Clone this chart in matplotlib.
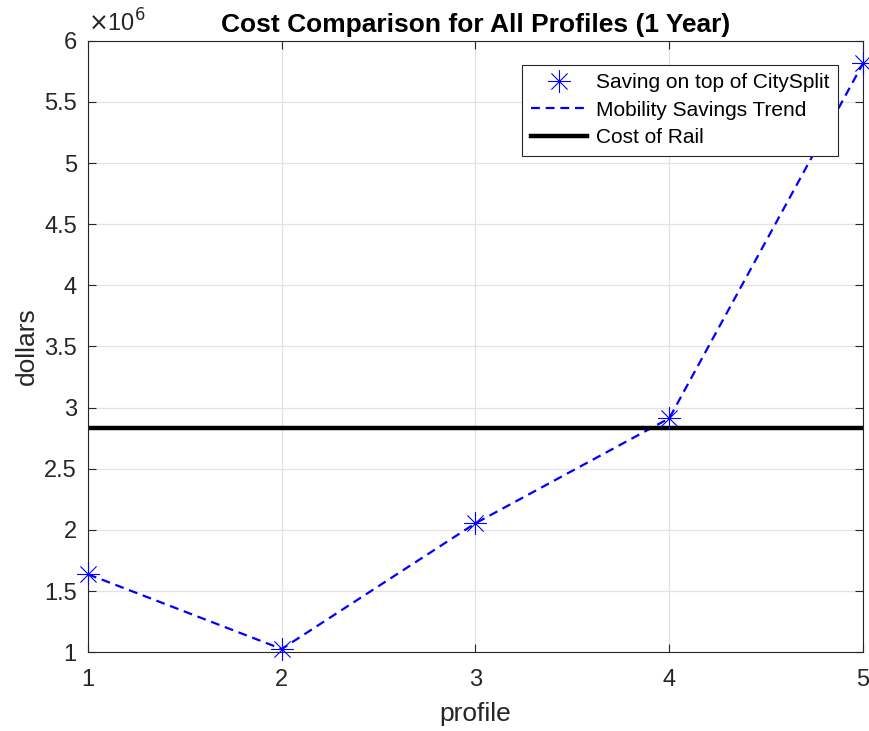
import matplotlib
matplotlib.use('Agg')
import matplotlib.pyplot as plt
from matplotlib.path import Path
from matplotlib.ticker import FuncFormatter, MultipleLocator

# yearly savings per profile, in dollars
profiles = [1, 2, 3, 4, 5]
savings = [1.638e6, 1.027e6, 2.055e6, 2.913e6, 5.815e6]
rail_cost = 2.831e6

plt.rcParams['font.family'] = ['Liberation Sans', 'DejaVu Sans']

# open 8-armed asterisk marker
d = 0.707
star = Path([(-1, 0), (1, 0), (0, -1), (0, 1), (-d, -d), (d, d), (-d, d), (d, -d)],
            [Path.MOVETO, Path.LINETO] * 4)

fig = plt.figure(figsize=(8.7, 7.31), dpi=100)
ax = fig.add_axes([0.1011, 0.1077, 0.8909, 0.8366])

ax.plot(profiles, savings, linestyle='none', marker=star, color='blue',
        markerfacecolor='none', markersize=16.5, markeredgewidth=0.8,
        clip_on=False, zorder=4, label='Saving on top of CitySplit')
ax.plot(profiles, savings, '--', color='blue', linewidth=1.6, dashes=(4, 2.6),
        label='Mobility Savings Trend')
ax.axhline(rail_cost, color='black', linewidth=3.2, label='Cost of Rail')

ax.set_xlim(1, 5)
ax.set_ylim(1e6, 6e6)
ax.xaxis.set_major_locator(MultipleLocator(1))
ax.yaxis.set_major_locator(MultipleLocator(0.5e6))
ax.yaxis.set_major_formatter(FuncFormatter(lambda v, p: '%g' % (v / 1e6)))
ax.grid(True, color='#e3e3e3', linewidth=0.9)
ax.set_axisbelow(True)
ax.tick_params(direction='in', top=True, right=True, labelsize=17,
               colors='#262626', length=6, width=0.8)
ax.tick_params(axis='x', pad=12)
ax.tick_params(axis='y', pad=8)
for s in ax.spines.values():
    s.set_color('#262626')
    s.set_linewidth(0.8)

ax.text(0.0, 1.006, r'$\times$10$^{6}$', transform=ax.transAxes, fontsize=17,
        color='#262626', ha='left', va='bottom')

ax.set_xlabel('profile', fontsize=19, color='#262626', labelpad=8)
ax.set_ylabel('dollars', fontsize=19, color='#262626', labelpad=4)
ax.set_title('Cost Comparison for All Profiles (1 Year)', fontsize=19,
             fontweight='bold', pad=6)

leg = ax.legend(loc='upper right', bbox_to_anchor=(0.968, 0.961), fontsize=15,
                fancybox=False, framealpha=1, edgecolor='#262626',
                borderpad=0.4, handlelength=2.7, labelspacing=0.42,
                handletextpad=0.45, borderaxespad=0)
leg.get_frame().set_linewidth(0.8)

fig.savefig('out.png', dpi=100)
